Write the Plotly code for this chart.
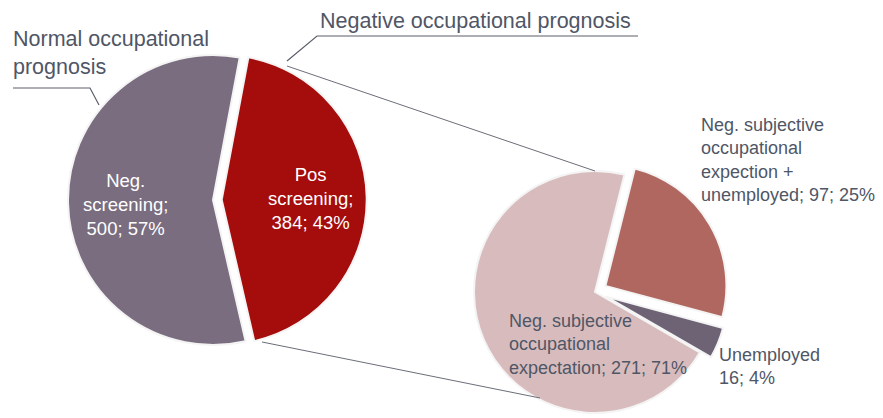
import plotly.graph_objects as go

W, H = 883, 418
OFF = 8  # page body margin

# ---- data ----
main_labels = ["Neg.<br>screening", "Pos<br>screening"]
main_values = [500, 384]
main_colors = ["#796d7f", "#a50c0c"]

sub_labels = ["Neg. subjective<br>occupational<br>expectation",
              "Neg. subjective<br>occupational<br>expection +<br>unemployed",
              "Unemployed"]
sub_values = [271, 97, 16]
sub_colors = ["#d8bcbd", "#b0675f", "#6e6275"]

group_titles = ["Normal occupational<br>prognosis", "Negative occupational prognosis"]

FONT = "Liberation Sans, Arial, sans-serif"
TXT = "#4f5666"


def px(x, y):
    return (x - OFF) / W, 1 - (y - OFF) / H


def pct(v, tot):
    return f"{round(100 * v / tot):.0f}%"


fig = go.Figure()

# left pie (reference center ~ (213,200), r ~145)
lp = 0.06
half = 145 * (1 + lp)
cx, cy = 213 - OFF, 200 - OFF
fig.add_trace(go.Pie(
    labels=main_labels, values=main_values, sort=False, direction="clockwise",
    rotation=167, pull=[0, lp], textinfo="none", hoverinfo="label+value+percent",
    marker=dict(colors=main_colors, line=dict(color="#f4f4f4", width=2)),
    domain=dict(x=[(cx - half) / W, (cx + half) / W],
                y=[(H - cy - half) / H, (H - cy + half) / H]),
    showlegend=False,
))

# right pie (reference center ~ (595,292), r ~121)
rp = 0.1
half2 = 121 * (1 + rp)
c2x, c2y = 595 - OFF, 292 - OFF
fig.add_trace(go.Pie(
    labels=sub_labels, values=sub_values, sort=False, direction="clockwise",
    rotation=120, pull=[0, rp, rp], textinfo="none", hoverinfo="label+value+percent",
    marker=dict(colors=sub_colors, line=dict(color="#f4f4f4", width=2)),
    domain=dict(x=[(c2x - half2) / W, (c2x + half2) / W],
                y=[max(0, (H - c2y - half2) / H), (H - c2y + half2) / H]),
    showlegend=False,
))

ann = []
mt = sum(main_values)
st = sum(sub_values)
# left pie labels
for lab, v, (x, y) in zip(main_labels, main_values, [(125, 204), (310, 198)]):
    ax, ay = px(x, y)
    ann.append(dict(x=ax, y=ay, xref="paper", yref="paper", xanchor="center", yanchor="middle",
                    text=f"{lab};<br>{v}; {pct(v, mt)}", showarrow=False, align="center",
                    font=dict(family=FONT, size=18.5, color="white")))
# right pie labels (x = left edge of text)
sub_pos = [(510, 344), (702, 160), (720, 366)]
for i, (lab, v, (x, y)) in enumerate(zip(sub_labels, sub_values, sub_pos)):
    ax, ay = px(x - 3, y)
    sep = "<br>" if i == 2 else "; "
    ann.append(dict(x=ax, y=ay, xref="paper", yref="paper", xanchor="left", yanchor="middle",
                    text=f"{lab}{sep}{v}; {pct(v, st)}", showarrow=False, align="left",
                    font=dict(family=FONT, size=18, color=TXT)))
# group titles
for t, (x, y) in zip(group_titles, [(13, 53), (320, 21)]):
    ax, ay = px(x - 1, y)
    ann.append(dict(x=ax, y=ay, xref="paper", yref="paper", xanchor="left", yanchor="middle",
                    text=t, showarrow=False, align="left", borderpad=0,
                    font=dict(family=FONT, size=21.5, color=TXT)))

shapes = []


def line(pts, color="#5a5f6a", width=1.2):
    path = "M " + " L ".join(f"{px(x, y)[0]:.5f},{px(x, y)[1]:.5f}" for x, y in pts)
    shapes.append(dict(type="path", path=path, xref="paper", yref="paper",
                       line=dict(color=color, width=width)))


line([(13, 88), (90, 88), (99, 105)])
line([(638, 36), (317, 36), (287, 61)])
line([(287, 66), (595, 171)], color="#6a6e78", width=1)
line([(262, 342), (540, 398)], color="#6a6e78", width=1)

fig.update_layout(width=W, height=H, margin=dict(l=0, r=0, t=0, b=0),
                  paper_bgcolor="white", plot_bgcolor="white",
                  annotations=ann, shapes=shapes)

fig.write_html("out.html")
